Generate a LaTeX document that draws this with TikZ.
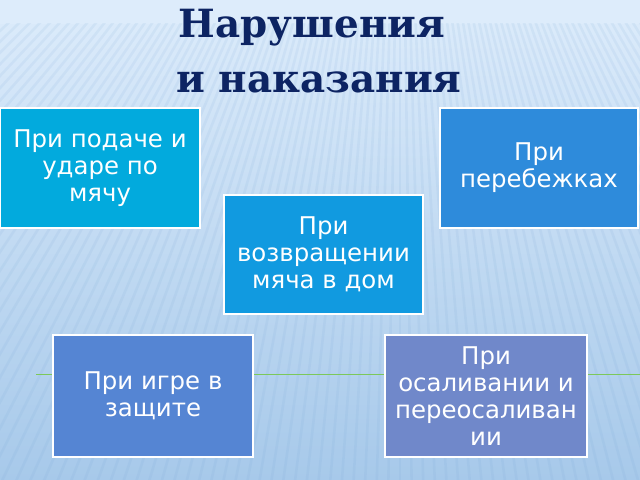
\documentclass[tikz,border=0pt]{standalone}
\usepackage{fontspec}
\setmainfont{DejaVu Sans}
\newfontfamily\titlefont{DejaVu Serif}
\definecolor{bgtop}{HTML}{DDECFB}
\definecolor{bgmid}{HTML}{C4DCF3}
\definecolor{bgbot}{HTML}{A7C9EA}
\definecolor{stripe}{HTML}{6E9FD2}
\definecolor{titleblue}{HTML}{0D2463}
\definecolor{fillA}{HTML}{02AADD}
\definecolor{fillB}{HTML}{2E8BDB}
\definecolor{fillC}{HTML}{119AE0}
\definecolor{fillD}{HTML}{5585D3}
\definecolor{fillE}{HTML}{7088CA}
\definecolor{lineGreen}{HTML}{7CC85A}

\begin{document}
\begin{tikzpicture}[x=1bp,y=-1bp,
                    box/.style={draw=white,line width=1.5bp,minimum width=200bp,
                                minimum height=120bp,inner sep=0pt,align=center,
                                text=white,font=\fontsize{24.5}{27}\selectfont},
                    heading/.style={anchor=base,text=titleblue,
                                    font=\titlefont\bfseries\fontsize{39}{44}\selectfont}]
\useasboundingbox (0,0) rectangle (640,480);

% background
\fill[top color=bgtop,middle color=bgmid,bottom color=bgbot] (0,0) rectangle (640,480);
\fill[bgtop] (0,0) rectangle (640,24);
\begin{scope}
\clip (0,24) rectangle (640,480);
\foreach \a in {-40,-39.2,...,52}
  \draw[stripe,opacity=0.1,line width=2.6bp] (400,-350) -- ++({90+\a}:1300);
\end{scope}

% title
\node[heading] (t1) at (312,38) {Нарушения};
\node[heading] (t2) at (319,93) {и наказания};

% green line behind the lower boxes
\coordinate (gl) at (36,374);
\coordinate (gr) at (640,374);
\draw[lineGreen,line width=1bp] (gl) -- (gr);

\node[box,fill=fillA] (serve) at (100,168) {При подаче и\\ударе по\\мячу};
\node[box,fill=fillB,minimum width=198bp] (run) at (539,168) {При\\перебежках};
\node[box,fill=fillC,minimum width=199bp,minimum height=119bp] (home) at (323.5,254.5) {При\\возвращении\\мяча в дом};
\node[box,fill=fillD,minimum height=122bp] (defense) at (153,396) {При игре в\\защите};
\node[box,fill=fillE,minimum width=202bp,minimum height=122bp] (tag) at (486,396) {При\\осаливании и\\переосаливан\\ии};

\end{tikzpicture}
\end{document}
